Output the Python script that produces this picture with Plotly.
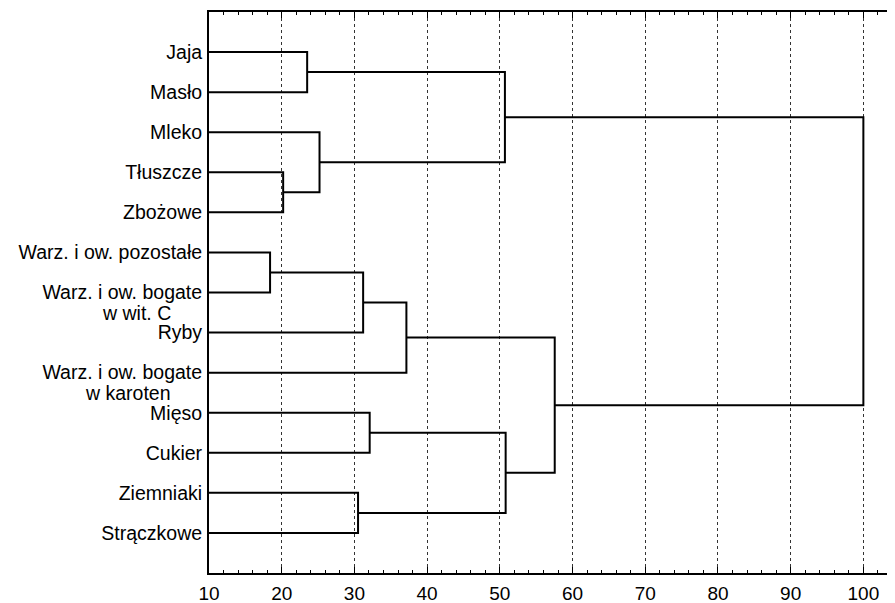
import plotly.graph_objects as go

# Leaf labels (top to bottom); second lines of two-line labels kept separately
labels = ["Jaja", "Masło", "Mleko", "Tłuszcze", "Zbożowe",
          "Warz. i ow. pozostałe", "Warz. i ow. bogate", "Ryby",
          "Warz. i ow. bogate", "Mięso", "Cukier", "Ziemniaki", "Strączkowe"]
label_second_line = {6: "w wit. C", 8: "w karoten"}

# Agglomeration steps: (left cluster id, right cluster id, linkage distance)
merge_left = [5, 3, 0, 2, 11, 13, 9, 18, 15, 19, 20, 21]
merge_right = [6, 4, 1, 14, 12, 7, 10, 8, 16, 17, 22, 23]
merge_height = [18.4, 20.2, 23.5, 25.2, 30.5, 31.2, 32.1, 37.15, 50.7, 50.8, 57.55, 100.0]

x_ticks = [10, 20, 30, 40, 50, 60, 70, 80, 90, 100]
x_min = 10

# Build dendrogram path from merges
n = len(labels)
pos = {i: i + 1 for i in range(n)}
hgt = {i: x_min for i in range(n)}
xs, ys = [], []
for k, (a, b, h) in enumerate(zip(merge_left, merge_right, merge_height)):
    cid = n + k
    xs += [hgt[a], h, h, hgt[b], None]
    ys += [pos[a], pos[a], pos[b], pos[b], None]
    pos[cid] = (pos[a] + pos[b]) / 2
    hgt[cid] = h

fig = go.Figure()
fig.add_trace(go.Scatter(x=xs, y=ys, mode="lines",
                         line=dict(color="black", width=2),
                         hoverinfo="skip", showlegend=False))

font = "Liberation Sans, Arial, sans-serif"
plot_w = 887 - 201
for idx, txt in label_second_line.items():
    fig.add_annotation(x=-36 / plot_w, xref="paper", y=idx + 1, yref="y",
                       text=txt, showarrow=False, xanchor="right",
                       yanchor="middle", yshift=-20,
                       font=dict(family=font, size=19.5, color="black"))

fig.update_layout(
    width=887, height=595,
    margin=dict(l=201, r=0, t=4, b=30),
    paper_bgcolor="white", plot_bgcolor="white",
    font=dict(family=font, size=19.5, color="black"),
    xaxis=dict(range=[x_min, 104.35], tickvals=x_ticks,
               ticktext=[str(v) for v in x_ticks],
               showgrid=True, gridcolor="#333", griddash="dot", gridwidth=1,
               showline=True, linecolor="black", linewidth=2, mirror="allticks",
               ticks="inside", ticklen=6, tickcolor="black", tickwidth=1,
               minor=dict(dtick=2, ticks="inside", ticklen=3, tickcolor="black", showgrid=False),
               tickfont=dict(size=19), zeroline=False, ticklabelstandoff=2),
    yaxis=dict(range=[14, 0], tickvals=list(range(1, n + 1)), ticktext=labels,
               showgrid=False, zeroline=False, showline=True, linecolor="black",
               linewidth=2, ticks="", tickfont=dict(size=19.5),
               ticklabelstandoff=1),
)

fig.write_html("out.html")
